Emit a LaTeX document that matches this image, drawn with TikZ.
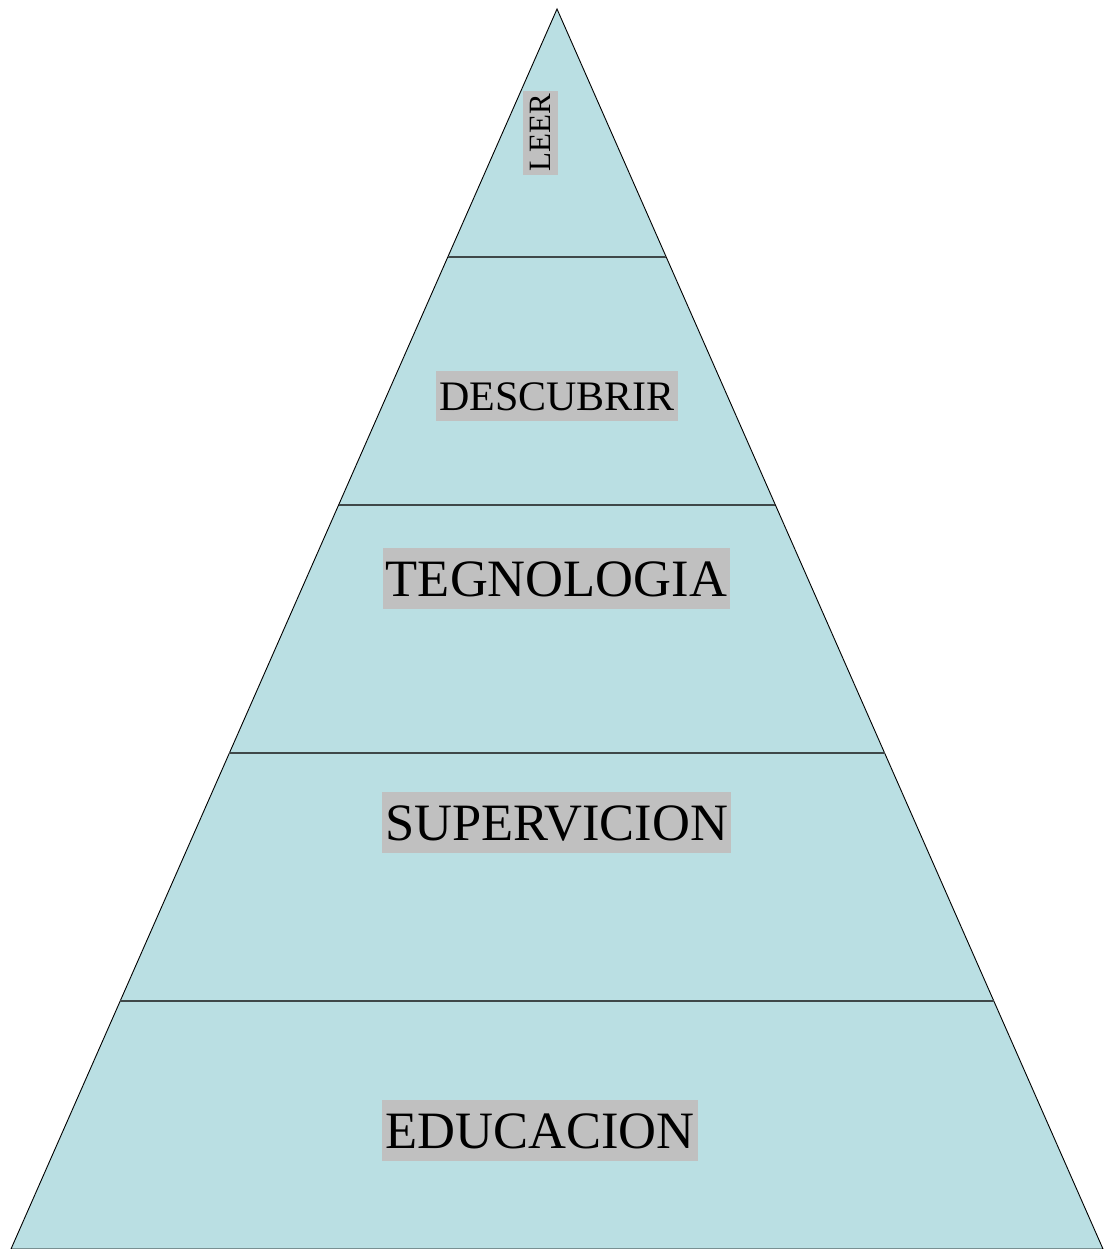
\documentclass[tikz,border=0pt]{standalone}
\usepackage{fontspec}
\setmainfont{Liberation Serif}
\usetikzlibrary{calc}
\definecolor{layerblue}{HTML}{BADFE3}
\definecolor{taggray}{HTML}{C0C0C0}
\definecolor{rulegray}{HTML}{3F4849}
\tikzstyle{pyramid}=[fill=layerblue, draw=black, line width=0.9pt]
\tikzstyle{divider}=[draw=rulegray, line width=2.3pt]
\tikzstyle{tag}=[fill=taggray, inner xsep=3pt, inner ysep=0pt]
\tikzstyle{big tag}=[tag, font=\fontsize{52.5}{52.5}\selectfont, text height=49pt, text depth=12pt]
\tikzstyle{mid tag}=[tag, font=\fontsize{42}{42}\selectfont, text height=40pt, text depth=10pt]
\tikzstyle{small tag}=[tag, font=\fontsize{31}{31}\selectfont, text height=28pt, text depth=7pt, rotate=90]

\begin{document}
\begin{tikzpicture}[x=1pt, y=-1pt]
  \useasboundingbox (0, 0) rectangle (1108, 1249);
  \coordinate (apex) at (557, 9);
  \coordinate (base_left) at (11, 1249);
  \coordinate (base_right) at (1103, 1249);
  \draw[pyramid] (apex) -- (base_left) -- (base_right) -- cycle;
  % layer boundaries
  \foreach \k in {1, ..., 4}
    \draw[divider] ($(apex)!\k/5!(base_left)$) -- ($(apex)!\k/5!(base_right)$);
  \node[small tag] (leer) at (540, 133) {LEER};
  \node[mid tag] (descubrir) at (557, 395.5) {DESCUBRIR};
  \node[big tag] (tegnologia) at (556.5, 578) {TEGNOLOGIA};
  \node[big tag] (supervicion) at (556.5, 822) {SUPERVICION};
  \node[big tag] (educacion) at (540, 1130) {EDUCACION};
\end{tikzpicture}
\end{document}
